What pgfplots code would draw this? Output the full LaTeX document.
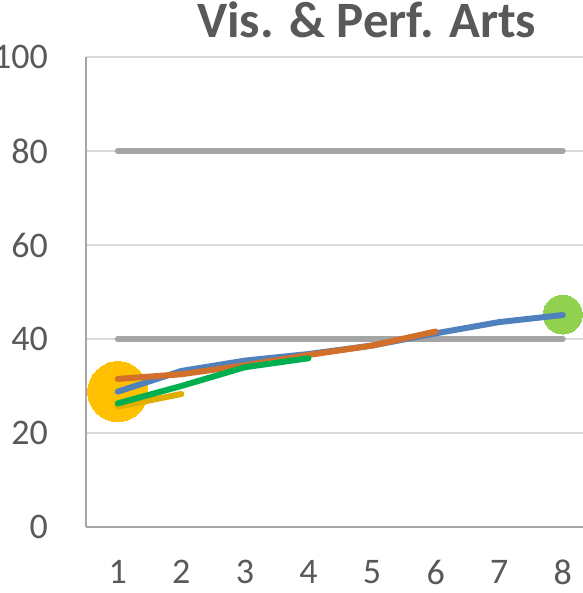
\documentclass[border=0pt]{standalone}
\usepackage{fontspec}
\setmainfont{Carlito}
\usepackage{pgfplots}
\pgfplotsset{compat=1.18}
\definecolor{txtgray}{HTML}{595959}
\definecolor{gridgray}{HTML}{D9D9D9}
\definecolor{axgray}{HTML}{A6A6A6}
\definecolor{lgray}{HTML}{A5A5A5}
\definecolor{cblue}{HTML}{4F81BD}
\definecolor{corange}{HTML}{D2702B}
\definecolor{cgreen}{HTML}{00B050}
\definecolor{cyellowline}{HTML}{E0AE00}
\definecolor{cyellow}{HTML}{FFC000}
\definecolor{cgreencirc}{HTML}{92D050}
\begin{document}
\begin{tikzpicture}
\clip (0,0) rectangle (583bp,593bp);
\begin{axis}[
  at={(86bp,66bp)}, anchor=south west,
  scale only axis, width=508.6bp, height=470bp,
  xmin=0.5, xmax=8.5, ymin=0, ymax=100,
  xtick={1,...,8}, ytick={0,20,...,100},
  axis x line*=bottom, axis y line*=left,
  axis line style={-, draw=axgray, line width=1.2bp},
  ymajorgrids, grid style={draw=gridgray, line width=1.2bp},
  major tick length=0pt, tick style={draw=none},
  /pgf/number format/assume math mode=true,
  ticklabel style={font=\fontsize{36bp}{40bp}\selectfont, text=txtgray, inner sep=0pt},
  yticklabel style={anchor=east, xshift=-38bp},
  xticklabel style={anchor=north, yshift=-33bp},
  title={Vis. \& Perf. Arts},
  title style={font=\bfseries\fontsize{51bp}{55bp}\selectfont, text=txtgray, at={(axis description cs:0.552,1)}, anchor=base, yshift=14bp, inner sep=0pt},
  clip=false, clip mode=individual,
]
\addplot[lgray, line width=6bp, line cap=round] coordinates {(1,80) (2,80) (3,80) (4,80) (5,80) (6,80) (7,80) (8,80)};
\addplot[lgray, line width=6bp, line cap=round] coordinates {(1,40) (2,40) (3,40) (4,40) (5,40) (6,40) (7,40) (8,40)};
\addplot[color=cyellow, only marks, mark=*, mark size=30bp, mark options={fill=cyellow, draw=cyellow, line width=0pt}] coordinates {(1,28.8)};
\addplot[color=cgreencirc, only marks, mark=*, mark size=19.5bp, mark options={fill=cgreencirc, draw=cgreencirc, line width=0pt}] coordinates {(8,45.2)};
\addplot[cyellowline, line width=6bp, line cap=round] coordinates {(1,25.6) (2,28.3)};
\addplot[cblue, line width=6bp, line cap=round] coordinates {(1,28.8) (2,33.2) (3,35.4) (4,36.8) (5,38.6) (6,41.2) (7,43.6) (8,45.1)};
\addplot[corange, line width=6bp, line cap=round] coordinates {(1,31.5) (2,32.5) (3,34.4) (4,36.6) (5,38.6) (6,41.6)};
\addplot[cgreen, line width=6bp, line cap=round] coordinates {(1,26.3) (2,30.0) (3,34.0) (4,35.9)};
\end{axis}
\end{tikzpicture}
\end{document}
